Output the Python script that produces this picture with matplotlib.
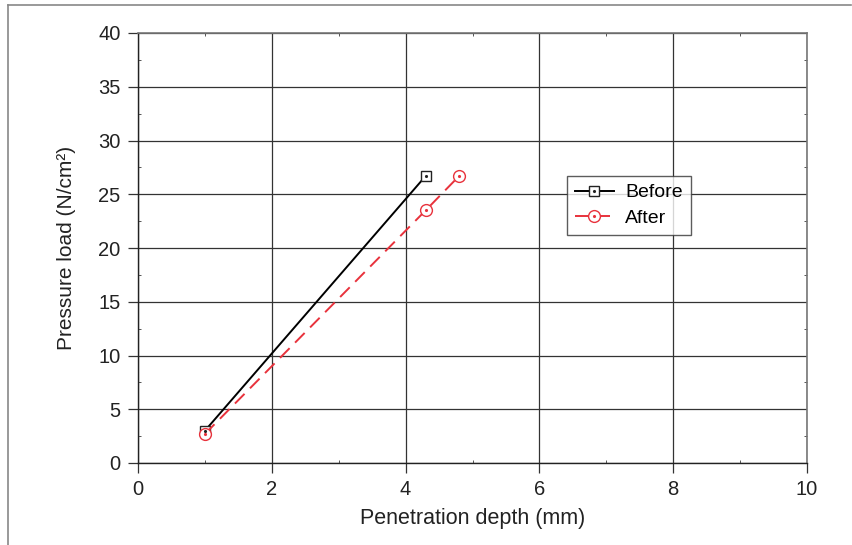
import matplotlib
matplotlib.use("Agg")
import matplotlib.pyplot as plt
from matplotlib.lines import Line2D
from matplotlib.ticker import MultipleLocator
from matplotlib.legend_handler import HandlerTuple

plt.rcParams['font.family'] = ['Liberation Sans', 'DejaVu Sans']

before_x = [1.0, 4.3]
before_y = [3.0, 26.7]
after_x = [1.0, 4.3, 4.8]
after_y = [2.7, 23.5, 26.7]
x_ticks = [0, 2, 4, 6, 8, 10]
y_ticks = [0, 5, 10, 15, 20, 25, 30, 35, 40]

red = '#e8323c'

fig = plt.figure(figsize=(8.53, 5.45), dpi=100)
ax = fig.add_axes([138/853, 1-463/545, (807-138)/853, (463-33)/545])

ax.set_xlim(0, 10)
ax.set_ylim(0, 40)
ax.set_xticks(x_ticks)
ax.set_yticks(y_ticks)
ax.xaxis.set_minor_locator(MultipleLocator(1))
ax.yaxis.set_minor_locator(MultipleLocator(2.5))
ax.tick_params(which='major', direction='out', length=7.5, width=0.9, color='#333333',
               labelsize=14.5, pad=5, labelcolor='#222222')
ax.tick_params(which='minor', direction='in', length=2.5, width=0.7, color='#555555',
               top=True, right=True)
ax.grid(True, which='major', color='#333333', linewidth=0.9)
ax.set_axisbelow(True)
for s in ['left', 'bottom']:
    ax.spines[s].set_color('#222222')
    ax.spines[s].set_linewidth(1.0)
for s in ['top', 'right']:
    ax.spines[s].set_color('#777777')
    ax.spines[s].set_linewidth(1.2)

l1, = ax.plot(before_x, before_y, color='black', linewidth=1.4,
              marker='s', markersize=7.5, markerfacecolor='white',
              markeredgecolor='#222222', markeredgewidth=1.0, zorder=3)
d1, = ax.plot(before_x, before_y, linestyle='none', marker='.', markersize=2.5,
              color='#222222', zorder=4)
l2, = ax.plot(after_x, after_y, color=red, linewidth=1.4, linestyle=(0, (7, 4)),
              marker='o', markersize=8.5, markerfacecolor='white',
              markeredgecolor=red, markeredgewidth=1.0, zorder=3)
d2, = ax.plot(after_x, after_y, linestyle='none', marker='.', markersize=2.5,
              color=red, zorder=4)

ax.set_xlabel('Penetration depth (mm)', fontsize=15.5, labelpad=6, color='#222222')
ax.set_ylabel('Pressure load (N/cm²)', fontsize=15, labelpad=16, color='#222222')

leg = ax.legend([(l1, d1), (l2, d2)], ['Before', 'After'],
                handler_map={tuple: HandlerTuple(ndivide=1)},
                loc='upper left', bbox_to_anchor=((567-138)/669, (463-176)/430),
                fontsize=14, frameon=True, fancybox=False, edgecolor='#333333',
                handlelength=2.0, handletextpad=0.6, borderpad=0.4,
                labelspacing=0.4, borderaxespad=0)
leg.get_frame().set_linewidth(1.0)

# outer frame
fig.add_artist(Line2D([8/853, 8/853], [0, 1-5/545], transform=fig.transFigure,
                      color='#888888', linewidth=1.2))
fig.add_artist(Line2D([8/853, 851/853], [1-5/545, 1-5/545], transform=fig.transFigure,
                      color='#888888', linewidth=1.2))

fig.savefig('out.png', dpi=100)
